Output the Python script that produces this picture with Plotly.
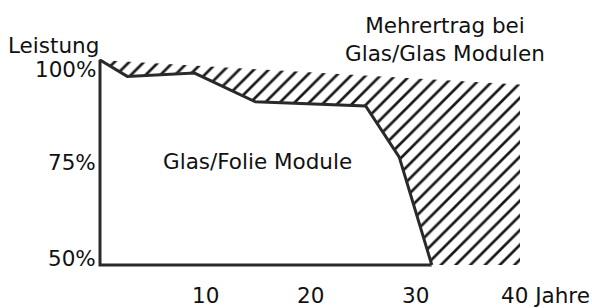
import plotly.graph_objects as go

# Data
folie_years = [0, 2.6, 9.0, 14.8, 25.3, 28.5, 31.6]
folie_power = [100, 96.0, 96.8, 89.8, 88.8, 76.3, 50]
glas_years = [0, 40]
glas_power = [100, 94]
base_power = 50

y_tick_vals = [100, 75, 50]
y_tick_text = ["100%", "75%", "50%"]
x_tick_vals = [10, 20, 30]
x_tick_text = ["10", "20", "30"]
x_last_val = 40
x_last_text = "40 Jahre"

FONT = "DejaVu Sans"
FS = 21.5
LINE_C = "#2a2a2a"
TXT_C = "#111111"

fig = go.Figure()

# hatched area between the Glas/Glas line and the Glas/Folie curve
hx = [glas_years[0], glas_years[1], glas_years[1]] + folie_years[::-1]
hy = [glas_power[0], glas_power[1], base_power] + folie_power[::-1]
fig.add_trace(go.Scatter(
    x=hx, y=hy, mode="lines", fill="toself",
    line=dict(width=0, color="rgba(0,0,0,0)"),
    fillcolor="white",
    fillpattern=dict(shape="/", size=10.4, solidity=0.26, fgcolor="#1a1a1a",
                     bgcolor="white", fgopacity=1),
    hoverinfo="skip", showlegend=False,
))

# Glas/Folie outline including the axes
ox = [folie_years[-1], folie_years[0], folie_years[0]] + folie_years[1:]
oy = [base_power, base_power, folie_power[0]] + folie_power[1:]
fig.add_trace(go.Scatter(
    x=ox, y=oy, mode="lines",
    line=dict(width=3, color=LINE_C),
    hoverinfo="skip", showlegend=False,
))

ann = []
yshifts = {100: -9, 75: 0, 50: 7}
for v, t in zip(y_tick_vals, y_tick_text):
    ann.append(dict(x=0, y=v, text=t, xanchor="right", yanchor="middle",
                    xshift=-2, yshift=yshifts[v], showarrow=False))
ann.append(dict(x=0, y=100, text="Leistung", xanchor="right", yanchor="middle",
                xshift=1, yshift=15, showarrow=False))
for v, t in zip(x_tick_vals, x_tick_text):
    ann.append(dict(x=v, y=base_power, text=t, xanchor="center", yanchor="middle",
                    yshift=-30, showarrow=False))
ann.append(dict(x=x_last_val, y=base_power, text=x_last_text, xanchor="left", yanchor="middle",
                xshift=-21, yshift=-30, showarrow=False))
ann.append(dict(x=15.0, y=75.2, text="Glas/Folie Module", xanchor="center", yanchor="middle",
                showarrow=False))
ann.append(dict(x=32.9, y=100, text="Mehrertrag bei<br>Glas/Glas Modulen", xanchor="center",
                yanchor="middle", yshift=21, showarrow=False))

fig.update_layout(
    width=592, height=308,
    margin=dict(l=0, r=0, t=0, b=0),
    paper_bgcolor="white", plot_bgcolor="white",
    font=dict(family=FONT, size=FS, color=TXT_C),
    xaxis=dict(range=[-100 / 10.5, 492 / 10.5], visible=False, fixedrange=True),
    yaxis=dict(range=[100 - 248 / 4.1, 100 + 60 / 4.1], visible=False, fixedrange=True),
    annotations=ann,
    showlegend=False,
)

fig.write_html("out.html", config={"displayModeBar": False},
               post_script="document.body.style.margin='0';document.body.style.overflow='hidden';")
